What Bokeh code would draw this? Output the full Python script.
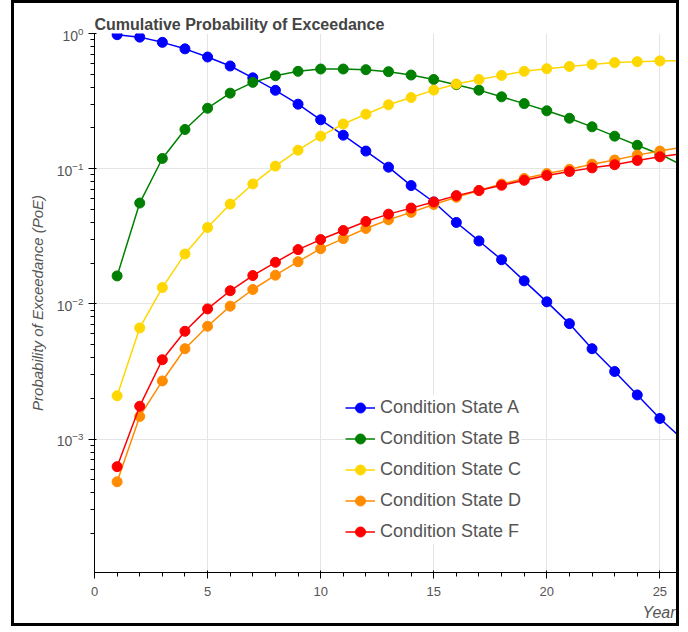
from bokeh.plotting import figure
from bokeh.models import Range1d, Legend, LegendItem, Title
from bokeh.embed import file_html
from bokeh.resources import INLINE

years = list(range(1, 27))

state_a = [0.98, 0.94, 0.86, 0.77, 0.67, 0.575, 0.47, 0.38, 0.30, 0.23,
           0.177, 0.135, 0.1026, 0.075, 0.0567, 0.040, 0.0292, 0.0212, 0.0148, 0.01035,
           0.00714, 0.00466, 0.00316, 0.00212, 0.00142, 0.000997]
state_b = [0.0161, 0.0557, 0.119, 0.195, 0.28, 0.362, 0.435, 0.487, 0.525, 0.546,
           0.546, 0.540, 0.522, 0.493, 0.457, 0.418, 0.381, 0.340, 0.303, 0.268,
           0.236, 0.204, 0.174, 0.149, 0.128, 0.106]
state_c = [0.00209, 0.00664, 0.0132, 0.0234, 0.0367, 0.0547, 0.0771, 0.1045, 0.137, 0.174,
           0.214, 0.253, 0.297, 0.336, 0.381, 0.423, 0.457, 0.490, 0.525, 0.549,
           0.571, 0.591, 0.609, 0.619, 0.627, 0.630]
state_d = [0.000483, 0.00147, 0.00269, 0.00466, 0.00683, 0.00962, 0.01277, 0.0163, 0.0205, 0.0256,
           0.0304, 0.0361, 0.0419, 0.0475, 0.0543, 0.0614, 0.069, 0.077, 0.0846, 0.092,
           0.099, 0.108, 0.116, 0.126, 0.135, 0.1445]
state_f = [0.000625, 0.00175, 0.00386, 0.00627, 0.00918, 0.0125, 0.0162, 0.0203, 0.0252, 0.0299,
           0.0349, 0.0407, 0.0461, 0.0511, 0.0567, 0.0632, 0.0689, 0.0754, 0.082, 0.089,
           0.0953, 0.1014, 0.107, 0.115, 0.1225, 0.129]

series_names = ["Condition State A", "Condition State B", "Condition State C",
                "Condition State D", "Condition State F"]
series_values = [state_a, state_b, state_c, state_d, state_f]
series_colors = ["#0000ff", "#008000", "#ffd700", "#ff8c00", "#ff0000"]

x_label = "Year"
y_label = "Probability of Exceedance (PoE)"

FONT = "Liberation Sans"

p = figure(width=668, height=626,
           x_range=Range1d(0, 26), y_range=Range1d(1.03e-4, 1.0),
           y_axis_type="log", output_backend="svg", toolbar_location=None,
           min_border_left=80, min_border_right=0, min_border_top=30, min_border_bottom=57,
           title="Cumulative Probability of Exceedance")
p.styles = {"border": "3px solid black", "margin-left": "11px", "margin-top": "0px"}

p.title.text_font = FONT
p.title.text_font_size = "16px"
p.title.text_font_style = "bold"
p.title.text_color = "#444444"
p.title.standoff = 2
p.outline_line_color = None

items = []
for name, vals, col in zip(series_names, series_values, series_colors):
    r1 = p.line(years, vals, line_color=col, line_width=1.5)
    r2 = p.scatter(years, vals, size=10, fill_color=col, line_color=col)
    items.append(LegendItem(label=name, renderers=[r1, r2]))

legend = Legend(items=items, location=(251, 28), label_text_font=FONT,
                label_text_font_size="18px", label_text_color="#555555",
                glyph_width=30, glyph_height=25, label_height=25, spacing=6,
                padding=7, margin=0, border_line_color=None,
                background_fill_color="white", background_fill_alpha=1.0)
p.add_layout(legend, "center")

for ax in (p.xaxis[0], p.yaxis[0]):
    ax.major_label_text_font = FONT
    ax.major_label_text_color = "#555555"
    ax.axis_label_text_font = FONT
    ax.axis_label_text_font_style = "italic"
    ax.axis_label_text_color = "#555555"

p.xaxis.major_label_text_font_size = "13px"
p.yaxis.major_label_text_font_size = "14px"
p.yaxis.axis_label_text_font_size = "15px"
p.xaxis.major_label_standoff = 8
p.yaxis.axis_label_standoff = 8
p.yaxis.axis_label = y_label

year_title = Title(text=x_label, align="right", text_font=FONT, text_font_size="16px",
                   text_font_style="italic", text_color="#555555", standoff=6, offset=7)
p.add_layout(year_title, "below")

with open("out.html", "w") as f:
    f.write(file_html(p, INLINE))
